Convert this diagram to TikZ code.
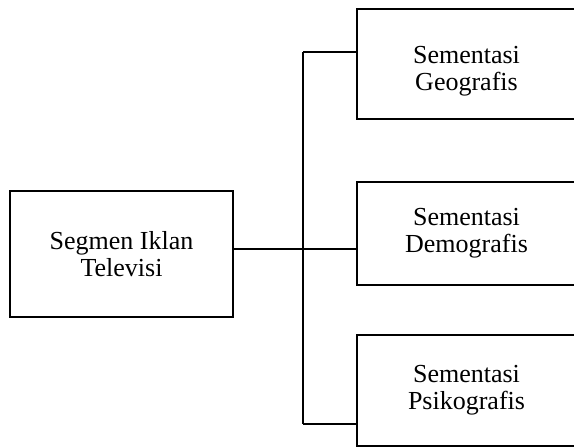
\documentclass[tikz,border=0pt]{standalone}
\usepackage{fontspec}
\setmainfont{Liberation Serif}
\usepackage{tikz}
\usetikzlibrary{positioning}

\begin{document}
\begin{tikzpicture}[x=1pt, y=-1pt, segbox/.style={draw=black, line width=1.7pt, align=center, inner sep=0pt, font=\fontsize{26}{27}\selectfont}, link/.style={draw=black, line width=1.7pt}]
\path[use as bounding box, clip] (0,0) rectangle (574,447);
\node[segbox, minimum width=223pt, minimum height=126pt] (seg) at (121.5,254) {Segmen Iklan\\Televisi};
\node[segbox, minimum width=219pt, minimum height=110pt] (geo) at (466.5,64) {\rule{0pt}{32pt}Sementasi\\Geografis};
\node[segbox, minimum width=219pt, minimum height=103pt] (demo) at (466.5,233.5) {Sementasi\\Demografis};
\node[segbox, minimum width=219pt, minimum height=111pt] (psiko) at (466.5,390.5) {Sementasi\\Psikografis};
\coordinate (jtop) at (303,52);
\coordinate (jmid) at (303,249);
\coordinate (jbot) at (303,424);
\draw[link] (jtop) -- (jbot);
\draw[link] (seg.east |- jmid) -- (jmid) -- (jmid -| demo.west);
\draw[link] (jtop) -- (jtop -| geo.west);
\draw[link] (jbot) -- (jbot -| psiko.west);
\end{tikzpicture}
\end{document}
